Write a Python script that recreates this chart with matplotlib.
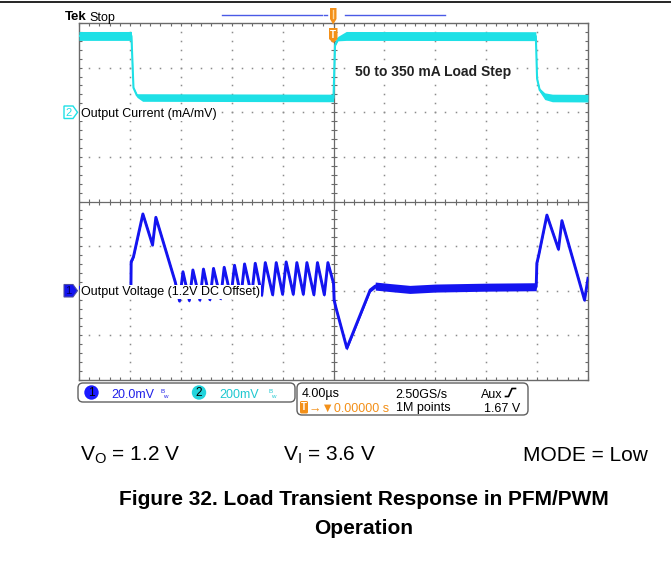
import numpy as np
import matplotlib
matplotlib.use('Agg')
import matplotlib.pyplot as plt
from matplotlib.patches import FancyBboxPatch, Polygon, Circle
from matplotlib.lines import Line2D
from matplotlib.transforms import Affine2D

W, H = 671, 577

# ---------------- scope settings ----------------
time_per_div_us = 4.0
ch1_mV_per_div = 20.0       # output voltage (1.2 V DC offset)
ch2_mA_per_div = 200.0      # output current (1 mA/mV, 200 mV/div)
ch1_offset_div = -2.0
ch2_offset_div = 2.0

# ---------------- channel 2 : output current ----------------
cur_t_us = [-20.0, -15.88, -15.72, -15.45, -15.0, 0.0, 0.12, 0.35, 1.0,
            15.9, 16.0, 16.2, 16.6, 17.2, 20.0]
cur_mA = [342, 342, 110, 75, 66, 64, 300, 330, 342,
          341, 150, 100, 72, 64, 63]
cur_noise_mA = [20, 20, 4, 8, 17, 17, 4, 10, 20,
                20, 4, 8, 15, 17, 17]

# ---------------- channel 1 : output voltage ----------------
pre_t_us = [-20.0, -15.92, -15.90, -15.72, -14.98, -14.22, -13.96, -12.44]
pre_mV = [1.5, 1.5, 13.0, 15.2, 34.4, 20.5, 32.9, 4.0]

pfm_valley_t_us = [-12.10, -11.33, -10.50, -9.71, -8.87, -8.06, -7.27, -6.43,
                   -5.64, -4.78, -4.00, -3.16, -2.37, -1.54, -0.72]
pfm_valley_mV = [-4.6, -4.4, -4.2, -4.0, -3.5, -3.0, -2.5, -2.2,
                 -2.0, -1.8, -1.6, -1.6, -1.6, -1.8, -1.8]
pfm_peak_t_us = [-11.83, -11.05, -10.22, -9.43, -8.59, -7.78, -6.99, -6.15,
                 -5.36, -4.50, -3.72, -2.88, -2.09, -1.26, -0.44]
pfm_peak_mV = [8.5, 9.3, 9.7, 10.0, 10.5, 11.4, 12.0, 12.3,
               12.6, 12.6, 12.9, 12.6, 12.6, 12.6, 12.6]

post_t_us = [0.0, 0.05, 0.2, 1.05, 2.88, 3.28, 4.5, 6.0, 8.0, 12.0, 15.93,
             15.98, 16.13, 16.77, 17.68, 17.95, 19.73, 20.0]
post_mV = [3.4, -4.2, -7.8, -25.7, 0.3, 2.1, 1.4, 0.6, 1.2, 1.6, 1.8,
           12.3, 16.0, 33.9, 18.6, 31.4, -4.2, 5.6]

pwm_window_us = (2.9, 15.93)
pwm_noise_mV = 1.8
trace_noise_mV = 0.9

volt_t = list(pre_t_us)
volt_v = list(pre_mV)
for tv, vv, tp, vp in zip(pfm_valley_t_us, pfm_valley_mV, pfm_peak_t_us, pfm_peak_mV):
    volt_t += [tv, tp]
    volt_v += [vv, vp]
volt_t += post_t_us
volt_v += post_mV
volt_t = np.array(volt_t)
volt_v = np.array(volt_v)

# ---------------- styles ----------------
BLUE = '#1414f0'
CYAN = '#1ee0e6'
ORANGE = '#f39019'
GRID = '#8c8c8c'
FRAME = '#6a6a6a'
FONT = ['Liberation Sans', 'DejaVu Sans']
plt.rcParams['font.family'] = FONT
plt.rcParams['mathtext.fontset'] = 'custom'
plt.rcParams['mathtext.rm'] = 'Liberation Sans'
plt.rcParams['mathtext.it'] = 'Liberation Sans:italic'
plt.rcParams['mathtext.bf'] = 'Liberation Sans:bold'

fig = plt.figure(figsize=(W / 100, H / 100), dpi=100)
pix = Affine2D().scale(1.0 / W, -1.0 / H).translate(0, 1) + fig.transFigure

L, R, T, B = 79, 588, 23, 380
ax = fig.add_axes([L / W, 1 - B / H, (R - L) / W, (B - T) / H])
x_lo, x_hi = -5 * time_per_div_us, 5 * time_per_div_us
y1_lo = (-4 - ch1_offset_div) * ch1_mV_per_div
y1_hi = (4 - ch1_offset_div) * ch1_mV_per_div
ax.set_xlim(x_lo, x_hi)
ax.set_ylim(y1_lo, y1_hi)

ax2 = ax.twinx()
ax2.set_ylim((-4 - ch2_offset_div) * ch2_mA_per_div, (4 - ch2_offset_div) * ch2_mA_per_div)
ax2.axis('off')

# graticule
maj_x = np.arange(-5, 6) * time_per_div_us
min_x = np.arange(-25, 26) * time_per_div_us / 5
maj_y = y1_lo + np.arange(0, 9) * ch1_mV_per_div
min_y = y1_lo + np.arange(0, 41) * ch1_mV_per_div / 5
cx = 0.0
cy = -ch1_offset_div * ch1_mV_per_div

ax.set_xticks(maj_x)
ax.set_xticks(min_x, minor=True)
ax.set_yticks(maj_y)
ax.set_yticks(min_y, minor=True)
ax.tick_params(which='both', direction='in', top=True, right=True, bottom=True, left=True,
               labelbottom=False, labelleft=False, color=FRAME, width=0.8)
ax.tick_params(which='major', length=2.5)
ax.tick_params(which='minor', length=2.0)
for s in ax.spines.values():
    s.set_color(FRAME)
    s.set_linewidth(1.0)

for yv in maj_y[1:-1]:
    if abs(yv - cy) < 1e-9:
        continue
    ax.plot(min_x, np.full_like(min_x, yv), ls='none', marker='s', ms=1.1, mew=0, color=GRID, zorder=1)
for xv in maj_x[1:-1]:
    if abs(xv - cx) < 1e-9:
        continue
    ax.plot(np.full_like(min_y, xv), min_y, ls='none', marker='s', ms=1.1, mew=0, color=GRID, zorder=1)
ax.axhline(cy, color=FRAME, lw=0.9, zorder=1)
ax.axvline(cx, color=FRAME, lw=0.9, zorder=1)
ax.plot(min_x, np.full_like(min_x, cy), ls='none', marker='|', ms=5, mew=0.8, color=FRAME, zorder=1)
ax.plot(np.full_like(min_y, cx), min_y, ls='none', marker='_', ms=5, mew=0.8, color=FRAME, zorder=1)

# traces
ax.fill_between(volt_t, volt_v - trace_noise_mV, volt_v + trace_noise_mV, color=BLUE, lw=0, zorder=3)
m = (volt_t >= pwm_window_us[0]) & (volt_t <= pwm_window_us[1])
ax.fill_between(volt_t[m], volt_v[m] - pwm_noise_mV, volt_v[m] + pwm_noise_mV, color=BLUE, lw=0, zorder=3)
ax.plot(volt_t, volt_v, color=BLUE, lw=2.1, zorder=3)

ct = np.array(cur_t_us)
cv = np.array(cur_mA, dtype=float)
cn = np.array(cur_noise_mA, dtype=float)
ax2.fill_between(ct, cv - cn, cv + cn, color=CYAN, lw=0, zorder=3)
ax2.plot(ct, cv, color=CYAN, lw=1.5, zorder=3)

# ---------------- annotations (pixel coords) ----------------
def txt(x, y, s, **kw):
    kw.setdefault('fontsize', 9)
    kw.setdefault('va', 'baseline')
    return fig.text(x, y, s, transform=pix, **kw)

fig.add_artist(Line2D([0, W], [1.8, 1.8], transform=pix, color='black', lw=1.2))

txt(65, 20.5, 'Tek', fontweight='bold', fontsize=9.5)
txt(89, 20.5, 'Stop', fontsize=9)
fig.add_artist(Line2D([222, 322], [14.5, 14.5], transform=pix, color='#4a5ae6', lw=1.0))
fig.add_artist(Line2D([324, 327], [14.5, 14.5], transform=pix, color='#4a5ae6', lw=1.0))
fig.add_artist(Line2D([345, 445], [14.5, 14.5], transform=pix, color='#4a5ae6', lw=1.0))
fig.add_artist(Polygon([(330, 8), (336.5, 8), (336.5, 19), (333.2, 24.5), (330, 19)],
                       closed=True, transform=pix, fc=ORANGE, ec='none'))
fig.add_artist(Line2D([333.2, 333.2], [10, 18], transform=pix, color='#ffd9a0', lw=1.0))
fig.add_artist(Polygon([(329, 28), (337.5, 28), (337.5, 39), (333.2, 43), (329, 39)],
                       closed=True, transform=pix, fc=ORANGE, ec='none'))
txt(333.2, 35, 'T', color='white', fontsize=7, fontweight='bold', ha='center', va='center')

# channel markers and labels
fig.add_artist(Polygon([(64, 106), (73, 106), (77.5, 112.3), (73, 118.5), (64, 118.5)],
                       closed=True, transform=pix, fc='white', ec=CYAN, lw=1.0))
txt(68.5, 112.5, '2', color=CYAN, fontsize=8, ha='center', va='center')
txt(81, 116.5, 'Output Current (mA/mV)', fontsize=9,
    bbox=dict(facecolor='white', edgecolor='none', pad=0.8))

fig.add_artist(Polygon([(64, 284.5), (73, 284.5), (77.5, 290.7), (73, 297), (64, 297)],
                       closed=True, transform=pix, fc=BLUE, ec='#5050a0', lw=0.8))
txt(68.5, 291, '1', color='#000060', fontsize=8, ha='center', va='center')
txt(81, 295, 'Output Voltage (1.2V DC Offset)', fontsize=9,
    bbox=dict(facecolor='white', edgecolor='none', pad=0.8))

txt(355, 76, '50 to 350 mA Load Step', fontsize=10, fontweight='bold', color='#222222',
    bbox=dict(facecolor='white', edgecolor='none', pad=1.5))

# status bar
fig.add_artist(FancyBboxPatch((78, 383), 217, 19, boxstyle='round,pad=0,rounding_size=5',
                              transform=pix, fc='white', ec='#606060', lw=1.0))
fig.add_artist(FancyBboxPatch((297, 383), 231, 32, boxstyle='round,pad=0,rounding_size=5',
                              transform=pix, fc='white', ec='#606060', lw=1.0))
fig.add_artist(Circle((91.5, 392.5), 7.2, transform=pix, fc='#1a1aff', ec='none'))
txt(91.5, 393, '1', fontsize=8.5, ha='center', va='center', color='black')
txt(111, 397.5, '20.0mV', color='#2020e8', fontsize=9)
txt(163, 393, 'B', color='#2020e8', fontsize=4.5, ha='center')
txt(165, 397.5, 'w', color='#2020e8', fontsize=4.5, ha='center')
fig.add_artist(Circle((199, 392.5), 7.2, transform=pix, fc='#22d4dc', ec='none'))
txt(199, 393, '2', fontsize=8.5, ha='center', va='center', color='black')
txt(219, 397.5, '200mV', color='#20c8d0', fontsize=9)
txt(271, 393, 'B', color='#20c8d0', fontsize=4.5, ha='center')
txt(273, 397.5, 'w', color='#20c8d0', fontsize=4.5, ha='center')

txt(302, 397.5, '4.00\u00b5s', fontsize=9)
txt(395, 397.5, '2.50GS/s', fontsize=9)
txt(481, 397.5, 'Aux', fontsize=9)
fig.add_artist(Line2D([505.5, 508.5, 512, 515.5], [396.5, 396.5, 388.5, 388.5],
                      transform=pix, color='black', lw=1.2))
fig.add_artist(FancyBboxPatch((300, 401), 8, 12.5, boxstyle='round,pad=0,rounding_size=1.5',
                              transform=pix, fc=ORANGE, ec='none'))
txt(304, 407.5, 'T', color='white', fontsize=7, fontweight='bold', ha='center', va='center')
txt(309, 411.5, '\u2192\u25bc0.00000 s', color=ORANGE, fontsize=9, family=FONT)
txt(396, 411.5, '1M points', fontsize=9)
txt(520, 411.5, '1.67 V', fontsize=9, ha='right')

# caption
txt(80, 461, r'V$_\mathrm{O}$ = 1.2 V', fontsize=15)
txt(283, 461, r'V$_\mathrm{I}$ = 3.6 V', fontsize=15)
txt(648, 461, 'MODE = Low', fontsize=15, ha='right')
txt(363.5, 505, 'Figure 32. Load Transient Response in PFM/PWM', fontsize=15,
    fontweight='bold', ha='center')
txt(363.5, 534, 'Operation', fontsize=15, fontweight='bold', ha='center')

fig.savefig('out.png', dpi=100, facecolor='white')
